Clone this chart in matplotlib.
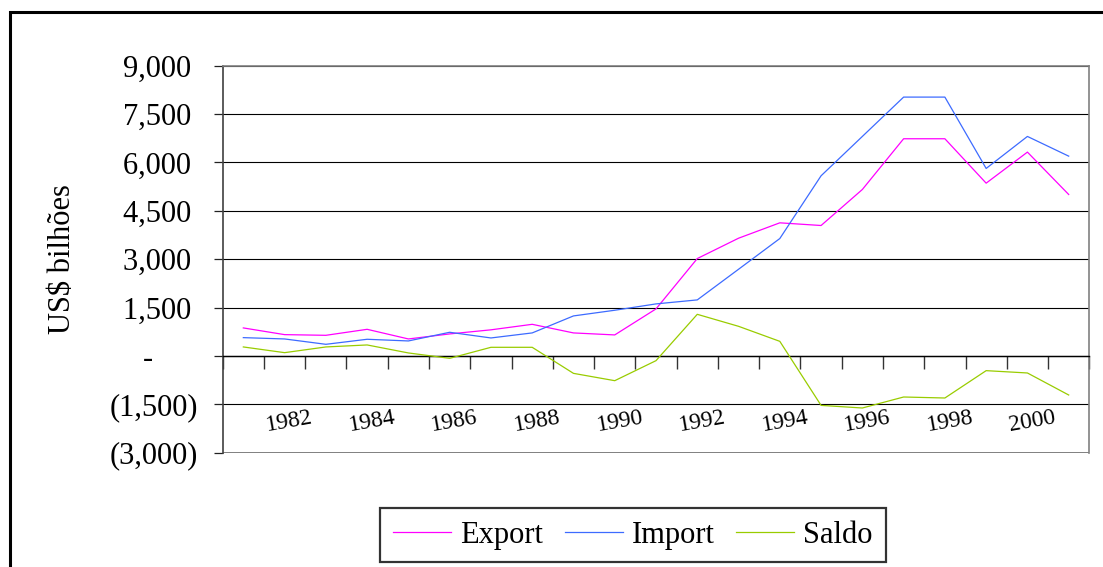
import matplotlib
matplotlib.use('Agg')
import matplotlib.pyplot as plt
from matplotlib.patches import Rectangle
from matplotlib.ticker import FixedLocator, FixedFormatter
import matplotlib.transforms as mtransforms
import numpy as np

plt.rcParams['font.family'] = ['Liberation Serif', 'DejaVu Serif']

# ── Data ──────────────────────────────────────────────────────────────────────
years = list(range(1981, 2002))
export = [869, 661, 640, 826, 527, 683, 810, 981, 714, 652, 1459,
          3020, 3651, 4128, 4045, 5162, 6735, 6735, 5358, 6321, 5007]
importv = [568, 527, 361, 517, 465, 734, 558, 714, 1241, 1417, 1614,
           1738, 2688, 3641, 5587, 6807, 8027, 8027, 5814, 6807, 6196]
saldo = [279, 102, 279, 341, 93, -74, 268, 268, -540, -767, -146,
         1291, 919, 453, -1533, -1614, -1273, -1304, -456, -528, -1211]

y_ticks = [9000, 7500, 6000, 4500, 3000, 1500, 0, -1500, -3000]
y_labels = ['9,000 ', '7,500 ', '6,000 ', '4,500 ', '3,000 ', '1,500 ',
            '-      ', '(1,500)', '(3,000)']
x_label_years = [1982, 1984, 1986, 1988, 1990, 1992, 1994, 1996, 1998, 2000]

C_EXP = '#FF00FF'
C_IMP = '#3D6BFF'
C_SAL = '#99CC00'

# ── Figure ────────────────────────────────────────────────────────────────────
fig = plt.figure(figsize=(11.03, 5.67), dpi=100)
fig.patch.set_facecolor('white')

# outer chart frame (cut off at right and bottom)
fig.patches.append(Rectangle((0.0091, -0.05), 1.1, 0.9788 + 0.05,
                             transform=fig.transFigure, fill=False,
                             edgecolor='black', linewidth=2.2))

ax = fig.add_axes([0.2019, 0.2016, 0.9876 - 0.2019, 0.8841 - 0.2016])

x = np.arange(len(years))
ax.plot(x, export, color=C_EXP, lw=0.9, label='Export', zorder=3)
ax.plot(x, importv, color=C_IMP, lw=0.9, label='Import', zorder=3)
ax.plot(x, saldo, color=C_SAL, lw=0.9, label='Saldo', zorder=3)

ax.set_xlim(-0.5, len(years) - 0.5)
ax.set_ylim(-3000, 9000)

# gridlines
for v in y_ticks:
    ax.axhline(v, color='black', lw=0.8, zorder=1)

# plot-area border
for s in ['top', 'right']:
    ax.spines[s].set_color('#808080')
    ax.spines[s].set_linewidth(1.2)
ax.spines['left'].set_color('#404040')
ax.spines['left'].set_linewidth(1.2)
ax.spines['bottom'].set_position(('data', 0))
ax.spines['bottom'].set_color('black')
ax.spines['bottom'].set_linewidth(1.0)
ax.axhline(-3000, color='#808080', lw=1.4, zorder=2)

# y axis
ax.yaxis.set_major_locator(FixedLocator(y_ticks))
ax.yaxis.set_major_formatter(FixedFormatter(y_labels))
ax.tick_params(axis='y', direction='out', length=6.5, width=0.9,
               color='#222222', labelsize=22, pad=11)
ax.set_ylabel('US$ bilhões', fontsize=22, labelpad=24)

# x axis: tick marks between categories, labels on alternate years
ax.xaxis.set_major_locator(FixedLocator(np.arange(-0.5, len(years), 1.0)))
ax.xaxis.set_major_formatter(FixedFormatter([]))
label_pos = [years.index(yv) for yv in x_label_years]
ax.xaxis.set_minor_locator(FixedLocator(label_pos))
ax.xaxis.set_minor_formatter(FixedFormatter([str(yv) for yv in x_label_years]))
ax.tick_params(axis='x', which='major', direction='out', length=9.5,
               width=1.0, color='#333333')
ax.tick_params(axis='x', which='minor', length=0, pad=37, labelsize=17,
               labelrotation=10)
shift = mtransforms.ScaledTranslation(5 / 100, 0, fig.dpi_scale_trans)
for t in ax.xaxis.get_minorticklabels():
    t.set_ha('center')
    t.set_transform(t.get_transform() + shift)

leg = fig.legend(loc='center', bbox_to_anchor=(0.574, 0.0564), ncol=3,
                 fontsize=22, frameon=True, fancybox=False, shadow=False,
                 handlelength=1.9, handletextpad=0.3, columnspacing=0.7,
                 borderpad=0.42)
leg.get_frame().set_edgecolor('black')
leg.get_frame().set_linewidth(1.6)

fig.savefig('out.png', dpi=100, facecolor='white')
